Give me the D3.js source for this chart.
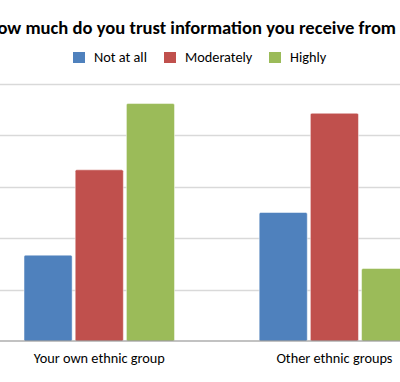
<!DOCTYPE html>
<html>
<head>
<meta charset="utf-8">
<script src="https://cdn.jsdelivr.net/npm/d3@7"></script>
<style>
  html, body { margin: 0; padding: 0; background: #fff; }
  svg { display: block; }
  text { font-family: Carlito, Lato, "Open Sans", sans-serif; fill: #000; }
</style>
</head>
<body>
<svg id="chart" width="400" height="382"></svg>
<script>
const categories = ["Your own ethnic group", "Other ethnic groups"];
const seriesNames = ["Not at all", "Moderately", "Highly"];
const notAtAll = [16.7, 25.0];
const moderately = [33.3, 44.3];
const highly = [46.2, 14.1];
const yTicks = [0, 10, 20, 30, 40, 50];
const colors = ["#4F81BD", "#C0504D", "#9BBB59"];
const title = "How much do you trust information you receive from";

const seriesValues = [notAtAll, moderately, highly];
const svg = d3.select("#chart");
const W = 400, H = 382;

const y = d3.scaleLinear().domain([0, 50]).range([341, 84]);
const x0 = d3.scaleBand().domain(categories).range([-18.3, 452]).paddingInner(0.36).paddingOuter(0.18);
const x1 = d3.scaleBand().domain(seriesNames).range([0, x0.bandwidth()]).paddingInner(0.06);

// gridlines
svg.append("g").selectAll("line").data(yTicks.filter(d => d > 0)).join("line")
  .attr("x1", -20).attr("x2", W + 60)
  .attr("y1", d => Math.round(y(d)) + 0.5).attr("y2", d => Math.round(y(d)) + 0.5)
  .attr("stroke", "#D9D9D9").attr("stroke-width", 1.5);

// bars
const groups = svg.append("g").selectAll("g").data(categories).join("g")
  .attr("transform", c => `translate(${x0(c)},0)`);
groups.selectAll("rect").data((c, ci) => seriesNames.map((s, si) => ({s, si, v: seriesValues[si][ci]}))).join("rect")
  .attr("x", d => x1(d.s))
  .attr("y", d => y(d.v))
  .attr("width", x1.bandwidth())
  .attr("height", d => y(0) - y(d.v))
  .attr("rx", 1.5)
  .attr("fill", d => colors[d.si])
  .attr("stroke", "#fff").attr("stroke-opacity", 0.6).attr("stroke-width", 0.8);

// baseline axis
const xAxis = d3.axisBottom(x0).tickSize(0).tickPadding(12);
const ax = svg.append("g").attr("transform", `translate(0,${y(0)})`).call(xAxis);
ax.select(".domain").attr("stroke", "#868686").attr("stroke-width", 1.2).attr("d", `M-20,0H${W + 60}`);
ax.selectAll("text").attr("font-size", 14.3).attr("fill", "#000")
  .attr("font-family", "Carlito, Lato, sans-serif");

// title
svg.append("text").attr("x", 396).attr("y", 34).attr("text-anchor", "end")
  .attr("font-size", 18.6).attr("font-weight", "bold").text(title);

// legend
const legendX = [73, 164, 269];
const lg = svg.append("g").selectAll("g").data(seriesNames).join("g")
  .attr("transform", (d, i) => `translate(${legendX[i]},52)`);
lg.append("rect").attr("width", 12).attr("height", 11).attr("fill", (d, i) => colors[i]);
lg.append("text").attr("x", 21).attr("y", 10).attr("font-size", 14.3).text(d => d);
</script>
</body>
</html>
